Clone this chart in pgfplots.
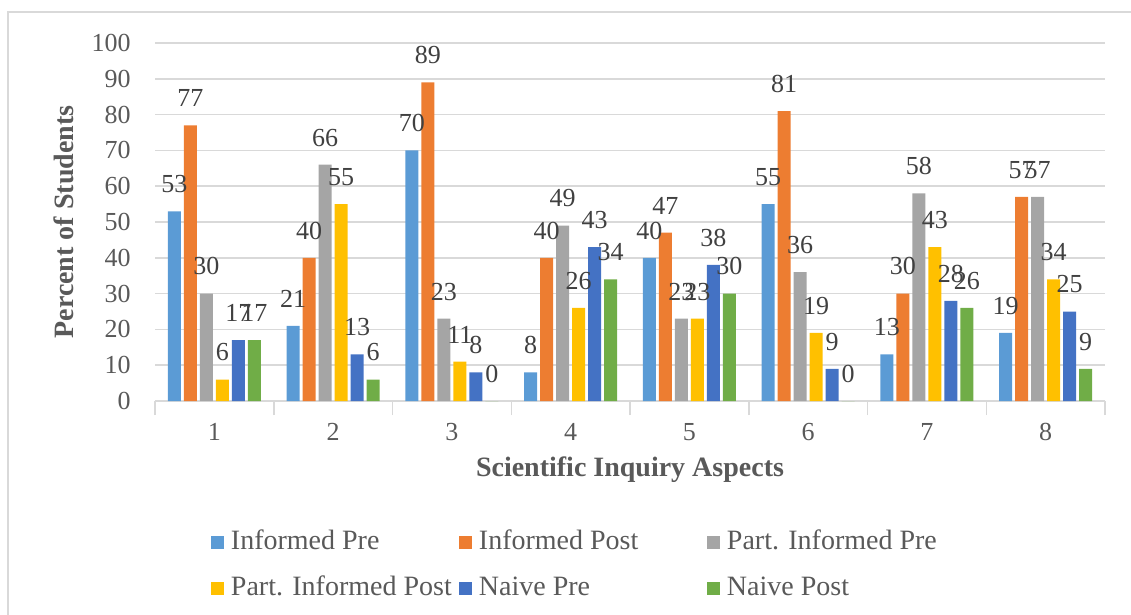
\documentclass[border=0pt,12pt]{standalone}
\usepackage{fontspec}
\setmainfont{Liberation Serif}
\usepackage{pgfplots}
\pgfplotsset{compat=1.18}
\definecolor{c1}{HTML}{5B9BD5}
\definecolor{c2}{HTML}{ED7D31}
\definecolor{c3}{HTML}{A5A5A5}
\definecolor{c4}{HTML}{FFC000}
\definecolor{c5}{HTML}{4472C4}
\definecolor{c6}{HTML}{70AD47}
\definecolor{txt}{HTML}{595959}
\definecolor{lbl}{HTML}{404040}
\definecolor{gridc}{HTML}{D9D9D9}
\newcommand{\ft}{\fontsize{13pt}{15pt}\selectfont}
\newcommand{\fl}{\fontsize{14pt}{16pt}\selectfont}
\pgfplotsset{
  legsq/.style={legend image code/.code={\fill[##1,draw=none] (0pt,-3.25pt) rectangle (6.5pt,3.25pt);}}
}
\begin{document}
\begin{tikzpicture}
\useasboundingbox (0pt,0pt) rectangle (565.5pt,-307.5pt);
\draw[gridc, line width=0.75pt] (4pt,-6pt) rectangle (580pt,-320pt);
\begin{axis}[
  at={(77.5pt,-200.5pt)}, anchor=south west,
  scale only axis, width=475pt, height=179pt,
  ybar=1.5pt, bar width=6.5pt,
  xmin=0.5, xmax=8.5, ymin=0, ymax=100,
  xtick={1,...,8},
  ytick={0,10,...,100},
  major tick length=0pt,
  ymajorgrids, grid style={gridc, line width=0.75pt},
  axis x line*=bottom, axis y line*=left,
  y axis line style={draw=none},
  x axis line style={gridc, line width=0.75pt, -},
  extra x ticks={0.5,1.5,...,8.5}, extra x tick labels={},
  extra x tick style={major tick length=7pt, tick align=outside, tick style={gridc, line width=0.75pt}, grid=none},
  /pgf/number format/assume math mode=true,
  tick label style={text=txt, font=\ft},
  xticklabel style={anchor=north, inner sep=0pt, yshift=-11pt},
  yticklabel style={anchor=east, inner sep=0pt, xshift=-12pt},
  xlabel={Scientific Inquiry Aspects},
  ylabel={Percent of Students},
  xlabel style={at={(axis description cs:0.5,0)}, anchor=base, yshift=-37.5pt, font=\fl\bfseries, text=txt},
  ylabel style={at={(axis description cs:0,0.5)}, anchor=center, yshift=45.5pt, font=\fl\bfseries, text=txt},
  nodes near coords,
  every node near coord/.append style={anchor=south, inner sep=0pt, yshift=9pt, text=lbl, font=\ft},
  legend columns=3,
  legend style={draw=none, fill=none, at={(axis description cs:0.0589,-0.360)}, anchor=north west,
    inner sep=0pt, outer sep=0pt, row sep=10pt, column sep=0pt, font=\fl,
    nodes={inner sep=0pt, text=txt, text height=10pt, text depth=3pt}},
  legend cell align=left,
]
\addplot[fill=c1, draw=none, legsq] coordinates {(1,53) (2,21) (3,70) (4,8) (5,40) (6,55) (7,13) (8,19)};
\addlegendentry{\hspace*{3.5pt}\makebox[114pt][l]{Informed Pre}}
\addplot[fill=c2, draw=none, legsq] coordinates {(1,77) (2,40) (3,89) (4,40) (5,47) (6,81) (7,30) (8,57)};
\addlegendentry{\hspace*{3.5pt}\makebox[114pt][l]{Informed Post}}
\addplot[fill=c3, draw=none, legsq] coordinates {(1,30) (2,66) (3,23) (4,49) (5,23) (6,36) (7,58) (8,57)};
\addlegendentry{\hspace*{3.5pt}Part. Informed Pre}
\addplot[fill=c4, draw=none, legsq] coordinates {(1,6) (2,55) (3,11) (4,26) (5,23) (6,19) (7,43) (8,34)};
\addlegendentry{\hspace*{3.5pt}\makebox[114pt][l]{Part. Informed Post}}
\addplot[fill=c5, draw=none, legsq] coordinates {(1,17) (2,13) (3,8) (4,43) (5,38) (6,9) (7,28) (8,25)};
\addlegendentry{\hspace*{3.5pt}\makebox[114pt][l]{Naive Pre}}
\addplot[fill=c6, draw=none, legsq] coordinates {(1,17) (2,6) (3,0) (4,34) (5,30) (6,0) (7,26) (8,9)};
\addlegendentry{\hspace*{3.5pt}Naive Post}
\end{axis}
\end{tikzpicture}
\end{document}
